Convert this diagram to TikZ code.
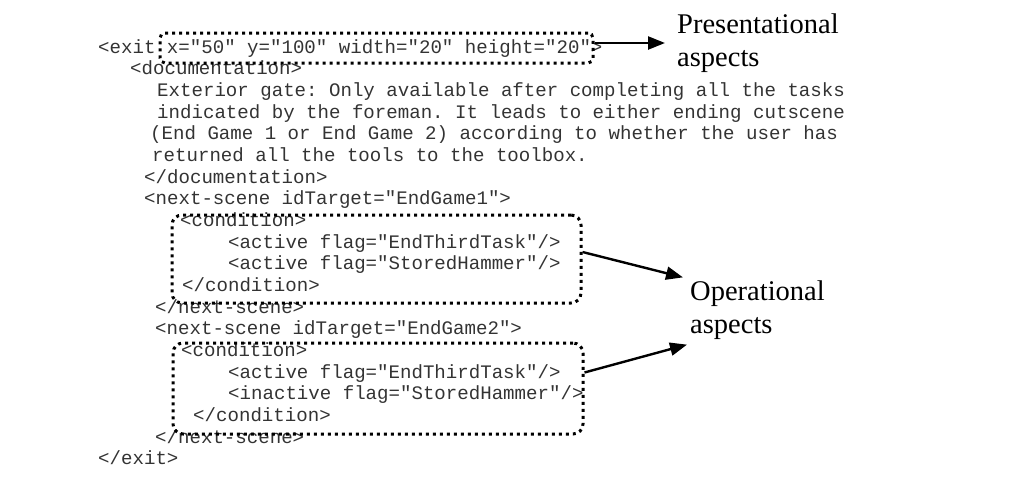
\documentclass[tikz,border=0pt]{standalone}
\usepackage{fontspec}
\setmainfont{Liberation Serif}
\setmonofont{Liberation Mono}
\usetikzlibrary{arrows.meta}
\tikzset{
  code/.style={anchor=mid west, inner sep=0pt, font=\ttfamily\fontsize{19.1}{22}\selectfont, text=black!80},
  aspect/.style={align=left, inner sep=0pt, font=\fontsize{28.5}{33}\selectfont},
  region/.style={draw, line width=3pt, dash pattern=on 3pt off 4pt, rounded corners=10pt, inner sep=0pt},
  pointer/.style={line width=2.4pt, -{Triangle[length=17pt,width=13pt]}}
}
\begin{document}
\begin{tikzpicture}[x=1pt,y=-1pt]
\useasboundingbox (0,0) rectangle (1012,488);

% XML listing, one node per line (line pitch 21.65)
\node[code] (l1)  at (98,51)    {<exit x="50" y="100" width="20" height="20">};
\node[code] (l2)  at (130,72.7) {<documentation>};
\node[code] (l3)  at (157,94.3) {Exterior gate: Only available after completing all the tasks};
\node[code] (l4)  at (157,116)  {indicated by the foreman. It leads to either ending cutscene};
\node[code] (l5)  at (150,137.6) {(End Game 1 or End Game 2) according to whether the user has};
\node[code] (l6)  at (152,159.3) {returned all the tools to the toolbox.};
\node[code] (l7)  at (144,180.9) {</documentation>};
\node[code] (l8)  at (144,202.6) {<next-scene idTarget="EndGame1">};
\node[code] (l9)  at (180,224.2) {<condition>};
\node[code] (l10) at (228,245.9) {<active flag="EndThirdTask"/>};
\node[code] (l11) at (228,267.5) {<active flag="StoredHammer"/>};
\node[code] (l12) at (182,289.2) {</condition>};
\node[code] (l13) at (155,310.8) {</next-scene>};
\node[code] (l14) at (155,332.5) {<next-scene idTarget="EndGame2">};
\node[code] (l15) at (181,354.1) {<condition>};
\node[code] (l16) at (228,375.8) {<active flag="EndThirdTask"/>};
\node[code] (l17) at (228,397.4) {<inactive flag="StoredHammer"/>};
\node[code] (l18) at (193,419.1) {</condition>};
\node[code] (l19) at (155,440.7) {</next-scene>};
\node[code] (l20) at (98,462.4) {</exit>};

% highlighted regions
\node[region, rounded corners=5pt, minimum width=433pt, minimum height=30pt] (pbox) at (376.5,48) {};
\node[region, minimum width=409pt, minimum height=88pt] (obox1) at (376.5,259) {};
\node[region, minimum width=410pt, minimum height=91pt] (obox2) at (378,388.5) {};

% labels
\node[aspect, anchor=west] (pres) at (677,43) {Presentational\\aspects};
\node[aspect, anchor=west] (oper) at (690,310) {Operational\\aspects};

% arrows
\draw[pointer] ([yshift=5pt]pbox.east) -- ([xshift=-12pt]pres.west);
\draw[pointer] ([yshift=7pt]obox1.east) -- ([xshift=-7pt,yshift=3pt]oper.north west);
\draw[pointer] ([yshift=16pt]obox2.east) -- ([xshift=-3pt,yshift=-5pt]oper.south west);
\end{tikzpicture}
\end{document}
